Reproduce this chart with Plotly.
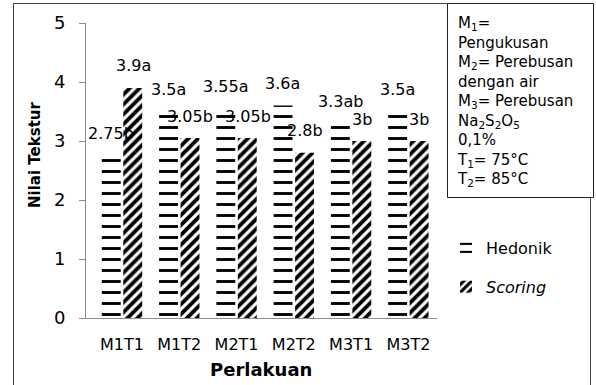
import plotly.graph_objects as go

# Texture scores per treatment
categories = ["M1T1", "M1T2", "M2T1", "M2T2", "M3T1", "M3T2"]
hedonik = [2.75, 3.5, 3.55, 3.6, 3.3, 3.5]
scoring = [3.9, 3.05, 3.05, 2.8, 3.0, 3.0]
hedonik_letters = ["b", "a", "a", "a", "ab", "a"]
scoring_letters = ["a", "b", "b", "b", "b", "b"]
y_ticks = [0, 1, 2, 3, 4, 5]

W, H = 596, 385
FONT = "DejaVu Sans"


def px(x):
    return x / W


def py(y):
    return 1 - y / H


fig = go.Figure()
fig.add_trace(go.Bar(
    x=categories, y=hedonik, name="Hedonik", legendgroup="h",
    marker=dict(color="white", line=dict(width=0),
                pattern=dict(shape="-", fgcolor="black", bgcolor="white",
                             fgopacity=1, size=11, solidity=0.26)),
))
fig.add_trace(go.Bar(
    x=categories, y=scoring, name="<i>Scoring</i>", legendgroup="s",
    marker=dict(color="white", line=dict(width=0),
                pattern=dict(shape="/", fgcolor="black", bgcolor="white",
                             fgopacity=1, size=7, solidity=0.55)),
))

# value + significance labels above each bar
annotations = []
for cat, v, l in zip(categories, hedonik, hedonik_letters):
    annotations.append(dict(x=cat, y=v, xref="x", yref="y", text=f"{v:g}{l}",
                            showarrow=False, xshift=-11, yshift=22,
                            font=dict(family=FONT, size=16, color="black")))
for cat, v, l in zip(categories, scoring, scoring_letters):
    annotations.append(dict(x=cat, y=v, xref="x", yref="y", text=f"{v:g}{l}",
                            showarrow=False, xshift=11, yshift=22,
                            font=dict(family=FONT, size=16, color="black")))

# axis titles
annotations.append(dict(x=px(35), y=py(155), xref="paper", yref="paper",
                        xanchor="center", yanchor="middle",
                        text="<b>Nilai Tekstur</b>", textangle=-90, showarrow=False,
                        font=dict(family=FONT, size=15, color="black")))
annotations.append(dict(x=px(261), y=py(369), xref="paper", yref="paper",
                        xanchor="center", yanchor="middle",
                        text="<b>Perlakuan</b>", showarrow=False,
                        font=dict(family=FONT, size=18, color="black")))

# treatment key
key_text = ("M<sub>1</sub>=<br>Pengukusan<br>M<sub>2</sub>= Perebusan<br>dengan air<br>"
            "M<sub>3</sub>= Perebusan<br>Na<sub>2</sub>S<sub>2</sub>O<sub>5</sub><br>0,1%<br>"
            "T<sub>1</sub>= 75°C<br>T<sub>2</sub>= 85°C")
annotations.append(dict(x=px(455), y=py(12), xref="paper", yref="paper",
                        xanchor="left", yanchor="top", align="left",
                        text=key_text, showarrow=False,
                        font=dict(family=FONT, size=15, color="black")))

shapes = [
    dict(type="rect", xref="paper", yref="paper", x0=px(13.5), x1=px(590.5),
         y0=py(400), y1=py(3.5), line=dict(color="#404040", width=1), layer="below"),
    dict(type="rect", xref="paper", yref="paper", x0=px(447.5), x1=px(593.5),
         y0=py(197.5), y1=py(3.5), line=dict(color="#202020", width=1),
         fillcolor="white", layer="below"),
]

fig.update_layout(
    width=W, height=H,
    margin=dict(l=0, r=0, t=0, b=0, autoexpand=False),
    paper_bgcolor="white", plot_bgcolor="white",
    font=dict(family=FONT, size=16, color="black"),
    barmode="group", bargap=0.25, bargroupgap=0.12,
    showlegend=True,
    legend=dict(x=px(446), y=py(231), xanchor="left", yanchor="top",
                traceorder="grouped", tracegroupgap=15,
                font=dict(family=FONT, size=16, color="black"),
                bgcolor="rgba(0,0,0,0)"),
    xaxis=dict(domain=[px(86), px(437)], showline=True, linecolor="#8c8c8c",
               linewidth=1, ticks="", showgrid=False, ticklabelstandoff=12,
               automargin=False, tickfont=dict(family=FONT, size=16)),
    yaxis=dict(domain=[py(318), py(23)], range=[0, 5], tickvals=y_ticks,
               showline=True, linecolor="#8c8c8c", linewidth=1,
               ticks="outside", ticklen=6, tickcolor="#8c8c8c",
               showgrid=False, zeroline=False, ticklabelstandoff=10,
               automargin=False, tickfont=dict(family=FONT, size=18)),
    annotations=annotations,
    shapes=shapes,
)

fig.write_html("out.html")
